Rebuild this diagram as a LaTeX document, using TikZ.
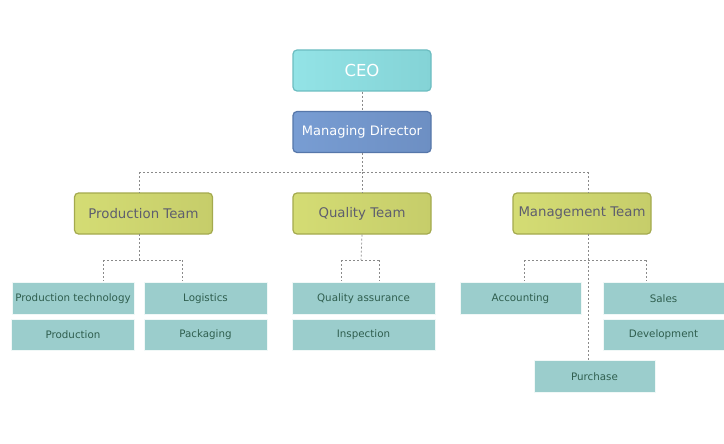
\documentclass[tikz,border=0pt]{standalone}
\usepackage{fontspec}
\setmainfont{DejaVu Sans}
\usetikzlibrary{positioning}
\definecolor{ceofill}{HTML}{84D3D6}
\definecolor{ceolight}{HTML}{93E3E6}
\definecolor{ceoedge}{HTML}{6CBDC1}
\definecolor{mdfill}{HTML}{6D8FC3}
\definecolor{mdlight}{HTML}{789DD3}
\definecolor{mdedge}{HTML}{5677AA}
\definecolor{tmfill}{HTML}{C6CD6A}
\definecolor{tmlight}{HTML}{D4DC74}
\definecolor{tmedge}{HTML}{A4AA4E}
\definecolor{tmtext}{HTML}{5E5E6E}
\definecolor{subfill}{HTML}{9BCDCC}
\definecolor{subtext}{HTML}{2F5E4E}
\definecolor{linec}{HTML}{8A8A8A}
\tikzset{
  topbox/.style={rounded corners=4pt, minimum width=138pt, minimum height=41pt, inner sep=0pt, line width=1.2pt},
  ceobox/.style={topbox, draw=ceoedge, left color=ceolight, right color=ceofill, text=white, font=\fontsize{16.5}{19}\selectfont},
  mdbox/.style={topbox, draw=mdedge, left color=mdlight, right color=mdfill, text=white, font=\fontsize{13}{15}\selectfont},
  teambox/.style={topbox, draw=tmedge, left color=tmlight, right color=tmfill, text=tmtext, font=\fontsize{13.3}{15}\selectfont},
  subbox/.style={fill=subfill, draw=white!85!subfill, line width=0.6pt, inner sep=0pt, minimum height=31.5pt, text=subtext, font=\fontsize{10.3}{12}\selectfont},
  conn/.style={draw=linec, line width=0.7pt, dash pattern=on 2pt off 2pt}
}
\begin{document}
\begin{tikzpicture}[x=1pt,y=-1pt]
\useasboundingbox[fill=white] (0,0) rectangle (724,444);
% top
\node[ceobox] (ceo) at (362,70.5) {CEO};
\node[mdbox] (md) at (362,132) {Managing Director};
% teams
\node[teambox] (pt) at (143.5,213.5) {Production Team};
\node[teambox] (qt) at (362,213.5) {Quality Team};
\node[teambox] (mt) at (582,213.5) {Management Team};
% production children
\node[subbox, minimum width=122pt] (ptech) at (73,298.5) {Production technology};
\node[subbox, minimum width=123pt] (prod) at (73,335) {Production};
\node[subbox, minimum width=123pt] (log) at (205.5,298.5) {Logistics};
\node[subbox, minimum width=123pt] (pack) at (205.5,335) {Packaging};
% quality children
\node[subbox, minimum width=143pt] (qa) at (363.5,298.5) {Quality assurance};
\node[subbox, minimum width=143pt] (insp) at (363.5,335) {Inspection};
% management children
\node[subbox, minimum width=121pt] (acc) at (520.5,298.5) {Accounting};
\node[subbox, minimum width=121pt] (sales) at (663.5,298.5) {Sales};
\node[subbox, minimum width=121pt] (dev) at (663.5,335) {Development};
\node[subbox, minimum width=121pt] (pur) at (594.5,376.5) {Purchase};
% junction coordinates
\coordinate (busl) at (139,172);
\coordinate (busr) at (588,172);
\coordinate (pbl) at (103,260);
\coordinate (pbr) at (182,260);
\coordinate (qbl) at (341,260);
\coordinate (qbr) at (379,260);
\coordinate (mbl) at (524,260);
\coordinate (mbr) at (646,260);
% connectors
\draw[conn] (ceo.south) -- (md.north);
\draw[conn] (md.south) -- (362,172);
\draw[conn] (busl) -- (busr);
\draw[conn] (busl) -- (busl |- pt.north);
\draw[conn] (362,172) -- (qt.north);
\draw[conn] (busr) -- (busr |- mt.north);
\draw[conn] (139,234) -- (139,260);
\draw[conn] (pbl) -- (pbr);
\draw[conn] (pbl) -- (103,281);
\draw[conn] (pbr) -- (182,281);
\draw[conn] (qt.south) -- (361,260);
\draw[conn] (qbl) -- (qbr);
\draw[conn] (qbl) -- (341,281);
\draw[conn] (qbr) -- (379,281);
\draw[conn] (588,234) -- (pur.north -| 588,0);
\draw[conn] (mbl) -- (mbr);
\draw[conn] (mbl) -- (524,281);
\draw[conn] (mbr) -- (646,281);
\end{tikzpicture}
\end{document}
